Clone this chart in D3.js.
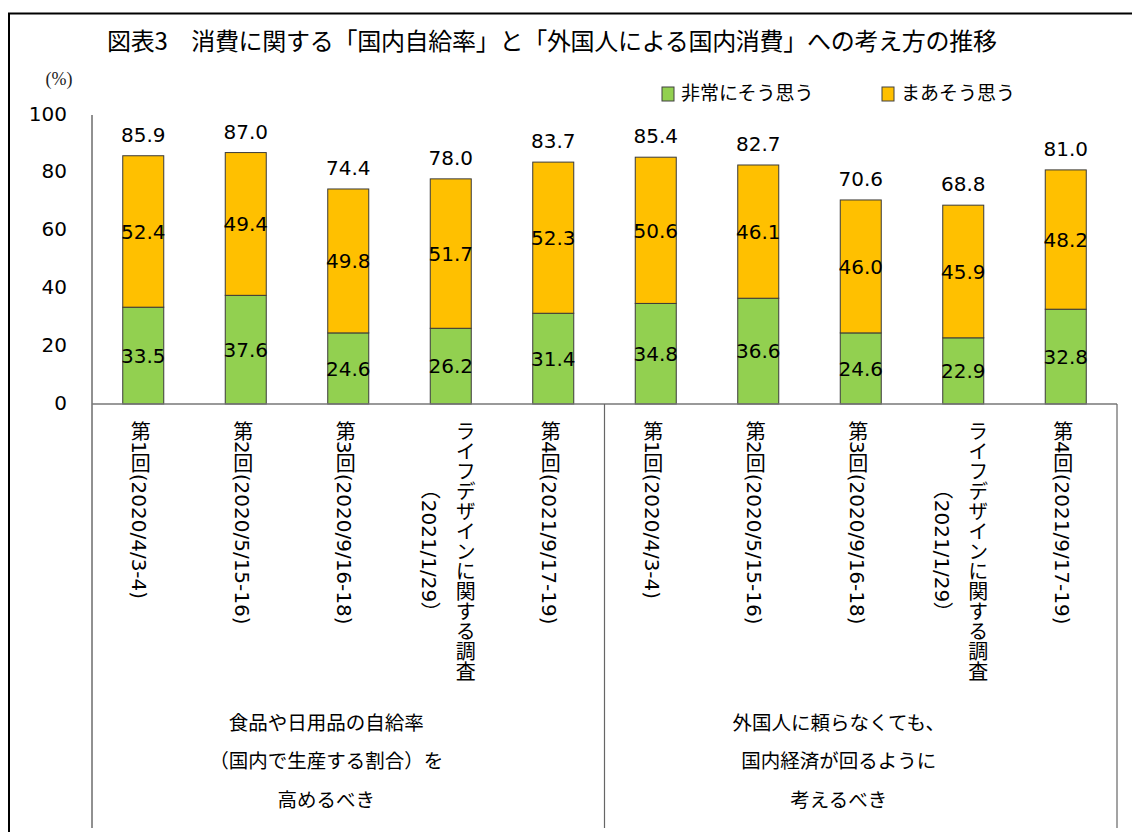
<!DOCTYPE html>
<html>
<head>
	<meta charset="utf-8">
	<title>図表3</title>
	<script src="https://cdn.jsdelivr.net/npm/d3@7"></script>
	<style>
		body { margin: 0; background: #fff; }
		text { font-family: "Noto Sans CJK JP", "Noto Sans", sans-serif; fill: #000; }
		.num { font-family: "DejaVu Sans", Verdana, sans-serif; }
		.vlabel { font-family: "DejaVu Sans", "Noto Sans CJK JP", sans-serif; }
	</style>
</head>
<body>
	<div id="chart"></div>
	<script>
		// chart data
		var title = "図表3　消費に関する「国内自給率」と「外国人による国内消費」への考え方の推移";
		var seriesNames = ["非常にそう思う", "まあそう思う"];
		var categories = [
			["第1回(2020/4/3-4)"],
			["第2回(2020/5/15-16)"],
			["第3回(2020/9/16-18)"],
			["ライフデザインに関する調査", "（2021/1/29）"],
			["第4回(2021/9/17-19)"],
			["第1回(2020/4/3-4)"],
			["第2回(2020/5/15-16)"],
			["第3回(2020/9/16-18)"],
			["ライフデザインに関する調査", "（2021/1/29）"],
			["第4回(2021/9/17-19)"]
		];
		var groups = [
			["食品や日用品の自給率", "（国内で生産する割合）を", "高めるべき"],
			["外国人に頼らなくても、", "国内経済が回るように", "考えるべき"]
		];
		var strongly = [33.5, 37.6, 24.6, 26.2, 31.4, 34.8, 36.6, 24.6, 22.9, 32.8];
		var somewhat = [52.4, 49.4, 49.8, 51.7, 52.3, 50.6, 46.1, 46.0, 45.9, 48.2];
		var totals = [85.9, 87.0, 74.4, 78.0, 83.7, 85.4, 82.7, 70.6, 68.8, 81.0];
		var yTicks = [0, 20, 40, 60, 80, 100];
		var colors = ["#92D050", "#FFC000"];

		var w = 1132, h = 832;
		var plotL = 92, plotR = 1117, plotT = 115, plotB = 404, sepB = 828;

		var svg = d3.select("#chart").append("svg")
			.attr("width", w)
			.attr("height", h);

		// outer frame (only left and top edges are in the picture)
		svg.append("path")
			.attr("d", "M9,840 L9,13.5 L1140,13.5")
			.attr("fill", "none")
			.attr("stroke", "#000")
			.attr("stroke-width", 2);

		svg.append("text")
			.attr("x", 552)
			.attr("y", 50)
			.attr("text-anchor", "middle")
			.attr("textLength", 890)
			.attr("lengthAdjust", "spacing")
			.style("font-size", "24px")
			.text(title);

		svg.append("text")
			.attr("x", 59)
			.attr("y", 85)
			.attr("text-anchor", "middle")
			.style("font-family", "'Liberation Serif', 'DejaVu Serif', serif")
			.style("font-size", "18px")
			.style("fill", "#222")
			.text("(%)");

		// scales
		var x = d3.scaleBand()
			.domain(d3.range(categories.length))
			.range([plotL, plotR])
			.paddingInner(0.6)
			.paddingOuter(0.3);
		var y = d3.scaleLinear().domain([0, 100]).range([plotB, plotT]);

		// y axis labels
		var yAxis = d3.axisLeft(y).tickValues(yTicks).tickSize(0).tickPadding(25);
		var gy = svg.append("g")
			.attr("transform", "translate(" + plotL + ",0)")
			.call(yAxis);
		gy.select(".domain").remove();
		gy.selectAll("text")
			.attr("class", "num")
			.attr("dy", "0.25em")
			.style("font-size", "20px")
			.style("fill", "#000");

		// stacked data
		var rows = categories.map(function(c, i) {
			return { i: i, s: [[0, strongly[i]], [strongly[i], strongly[i] + somewhat[i]]], v: [strongly[i], somewhat[i]] };
		});

		var bar = svg.selectAll(".bar").data(rows).enter().append("g").attr("class", "bar");
		[0, 1].forEach(function(k) {
			bar.append("rect")
				.attr("x", function(d) { return x(d.i); })
				.attr("width", x.bandwidth())
				.attr("y", function(d) { return y(d.s[k][1]); })
				.attr("height", function(d) { return y(d.s[k][0]) - y(d.s[k][1]); })
				.attr("fill", colors[k])
				.attr("stroke", "#3a3a3a")
				.attr("stroke-width", 1);
		});
		[0, 1].forEach(function(k) {
			bar.append("text")
				.attr("class", "num")
				.attr("x", function(d) { return x(d.i) + x.bandwidth() / 2; })
				.attr("y", function(d) { return y((d.s[k][0] + d.s[k][1]) / 2); })
				.attr("dy", "0.36em")
				.attr("text-anchor", "middle")
				.style("font-size", "20px")
				.text(function(d) { return d.v[k].toFixed(1); });
		});
		bar.append("text")
			.attr("class", "num")
			.attr("x", function(d) { return x(d.i) + x.bandwidth() / 2; })
			.attr("y", function(d) { return y(totals[d.i]) - 14; })
			.attr("text-anchor", "middle")
			.style("font-size", "20px")
			.text(function(d) { return totals[d.i].toFixed(1); });

		// axis lines and group separators
		svg.append("line")
			.attr("x1", plotL).attr("x2", plotL).attr("y1", plotT).attr("y2", sepB)
			.attr("stroke", "#222").attr("stroke-width", 1);
		svg.append("line")
			.attr("x1", plotL).attr("x2", plotR).attr("y1", plotB).attr("y2", plotB)
			.attr("stroke", "#777").attr("stroke-width", 1.5);
		var perGroup = categories.length / groups.length;
		function groupEdge(g) {
			if (g === 0) return plotL;
			if (g === groups.length) return plotR;
			return (x(perGroup * g - 1) + x.bandwidth() + x(perGroup * g)) / 2;
		}
		d3.range(1, groups.length + 1).forEach(function(g) {
			var gx = groupEdge(g);
			svg.append("line")
				.attr("x1", gx).attr("x2", gx).attr("y1", plotB).attr("y2", sepB)
				.attr("stroke", "#666").attr("stroke-width", 1.2);
		});

		// vertical category labels
		var lineGap = 35, labelTop = 421;
		var cat = svg.selectAll(".cat").data(categories).enter().append("g").attr("class", "cat");
		cat.each(function(lines, i) {
			var cx = x(i) + x.bandwidth() / 2 - 4;
			var n = lines.length;
			var g = d3.select(this);
			var first = null;
			lines.forEach(function(t, j) {
				var lx = cx + (n - 1) * lineGap / 2 - j * lineGap;
				var el = g.append("text")
					.attr("class", "vlabel")
					.attr("x", lx)
					.attr("y", labelTop)
					.style("writing-mode", "vertical-rl")
					.style("font-size", "20px")
					.text(t);
				var len = el.node().getComputedTextLength();
				if (j === 0) first = len;
				else el.attr("y", labelTop + (first - len) / 2);
			});
		});

		// group labels
		groups.forEach(function(lines, gi) {
			var gc = (groupEdge(gi) + groupEdge(gi + 1)) / 2 - 22;
			lines.forEach(function(t, j) {
				svg.append("text")
					.attr("x", gc)
					.attr("y", 723 + j * 38.5)
					.attr("dy", "0.35em")
					.attr("text-anchor", "middle")
					.style("font-size", "19.5px")
					.text(t);
			});
		});

		// legend
		var legendX = [662, 882];
		seriesNames.forEach(function(name, k) {
			svg.append("rect")
				.attr("x", legendX[k]).attr("y", 87)
				.attr("width", 12).attr("height", 14)
				.attr("fill", colors[k])
				.attr("stroke", "#404040").attr("stroke-width", 1);
			svg.append("text")
				.attr("x", legendX[k] + 19)
				.attr("y", 93)
				.attr("dy", "0.35em")
				.style("font-size", "19px")
				.text(name);
		});
	</script>
</body>
</html>
